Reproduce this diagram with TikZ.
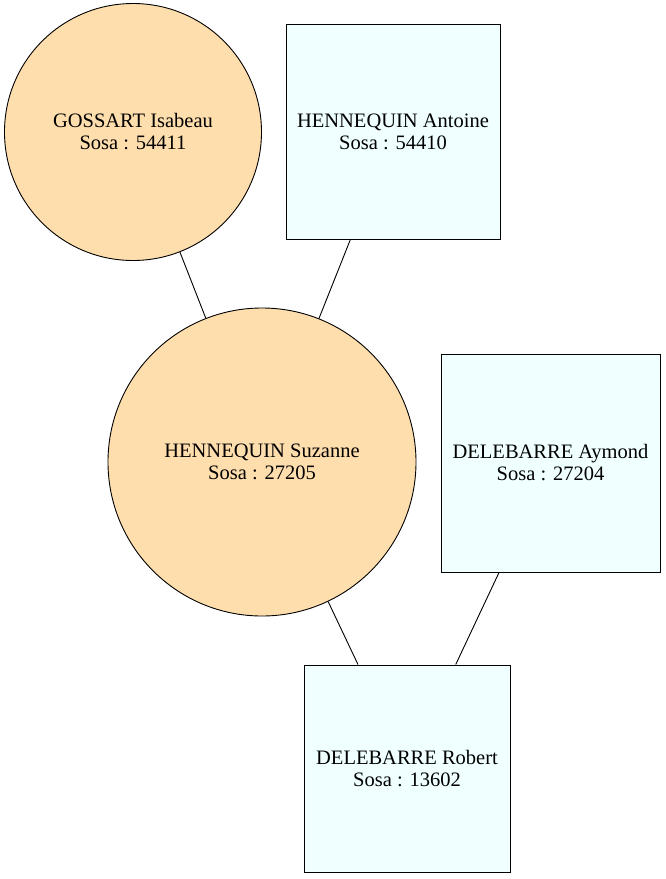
\documentclass[tikz,border=0pt]{standalone}
\usepackage{fontspec}
\setmainfont{Liberation Serif}
\usepackage{tikz}

\begin{document}
\begin{tikzpicture}[x=1pt,y=-1pt,
  person/.style={draw,line width=0.9pt,inner sep=0pt,align=center,
    font=\fontsize{20.5}{22}\selectfont},
  femme/.style={person,circle,fill={rgb,255:red,255;green,222;blue,173}},
  homme/.style={person,rectangle,fill={rgb,255:red,240;green,255;blue,255}}]
\useasboundingbox (0,0) rectangle (666,879);

\node (gossart) at (133,132) [femme,minimum size=257] {GOSSART Isabeau\\Sosa : 54411};
\node (antoine) at (393,132) [homme,minimum width=214,minimum height=215] {HENNEQUIN Antoine\\Sosa : 54410};
\node (suzanne) at (262,462) [femme,minimum size=308] {HENNEQUIN Suzanne\\Sosa : 27205};
\node (aymond) at (550.5,463) [homme,minimum width=219,minimum height=218] {DELEBARRE Aymond\\Sosa : 27204};
\node (robert) at (407,768.5) [homme,minimum width=206,minimum height=207] {DELEBARRE Robert\\Sosa : 13602};

\draw[line width=0.9pt] (gossart) -- (suzanne);
\draw[line width=0.9pt] (antoine) -- (suzanne);
\draw[line width=0.9pt] (suzanne) -- (robert);
\draw[line width=0.9pt] (aymond) -- (robert);

\end{tikzpicture}
\end{document}
